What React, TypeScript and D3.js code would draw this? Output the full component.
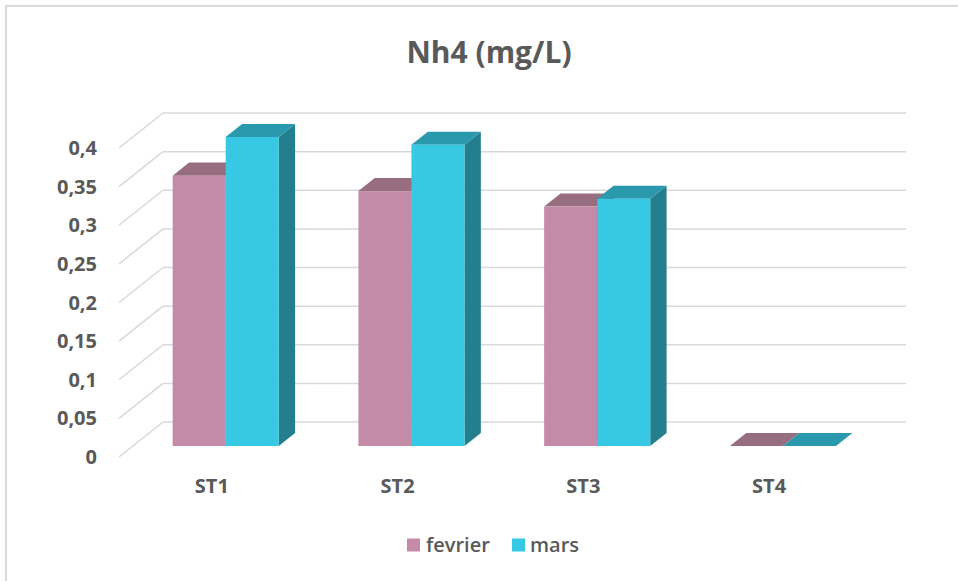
import React from "react";
import * as d3 from "d3";

// Nh4 concentrations (mg/L) per station, two sampling months
const categories = ["ST1", "ST2", "ST3", "ST4"];
const seriesNames = ["fevrier", "mars"];
const fevrier = [0.35, 0.33, 0.31, 0];
const mars = [0.4, 0.39, 0.32, 0];
const yTicks = [0, 0.05, 0.1, 0.15, 0.2, 0.25, 0.3, 0.35, 0.4];

const W = 958;
const H = 581;

// Oblique 3D projection: the floor runs from the front plane to the back wall
const front = { x: 119, y: 457 };
const depth = { dx: 44, dy: -35 };
const plotWidth = 743;
const plotHeight = 309;
const barDepthStart = 0.314;
const barDepthEnd = 0.686;

const colors = {
  fevrier: { front: "#C38BA8", top: "#976E80", side: "#7E5B6B" },
  mars: { front: "#37C9E4", top: "#2A99AD", side: "#237E8E" },
};

const textColor = "#595959";
const gridColor = "#D9D9D9";
const fontFamily = "'Open Sans', 'Noto Sans', sans-serif";

const fmt = (v: number) => String(v).replace(".", ",");

export default function App() {
  const y = d3.scaleLinear().domain([0, 0.4]).range([0, plotHeight]);
  const x = d3
    .scaleBand<string>()
    .domain(categories)
    .range([0, plotWidth])
    .paddingInner(0.429)
    .paddingOuter(0.2145);
  const xs = d3.scaleBand<string>().domain(seriesNames).range([0, x.bandwidth()]);

  const at = (t: number) => ({
    x: front.x + depth.dx * t,
    y: front.y + depth.dy * t,
  });
  const back = at(1);
  const barPlane = at(barDepthStart);
  const bdx = depth.dx * (barDepthEnd - barDepthStart);
  const bdy = depth.dy * (barDepthEnd - barDepthStart);

  const series = [
    { name: "fevrier", values: fevrier, c: colors.fevrier },
    { name: "mars", values: mars, c: colors.mars },
  ];

  const pts = (p: [number, number][]) => p.map((q) => q.join(",")).join(" ");

  return (
    <svg
      width={W}
      height={H}
      style={{ position: "absolute", left: 0, top: 0, background: "#fff" }}
      fontFamily={fontFamily}
    >
      <rect x={6} y={6} width={W + 10} height={H + 10} fill="#fff" stroke={gridColor} strokeWidth={2} />

      <text
        x={489}
        y={63}
        textAnchor="middle"
        fontSize={30}
        fontWeight={700}
        fill={textColor}
      >
        Nh4 (mg/L)
      </text>

      {/* gridlines: side-wall diagonal + back-wall horizontal */}
      {yTicks.map((t) => {
        const yb = back.y - y(t);
        const yf = front.y - y(t);
        return (
          <g key={t}>
            <line x1={front.x} y1={yf} x2={back.x} y2={yb} stroke={gridColor} strokeWidth={1.5} />
            <line x1={back.x} y1={yb} x2={back.x + plotWidth} y2={yb} stroke={gridColor} strokeWidth={1.5} />
            <text
              x={97}
              y={yf}
              dy="0.35em"
              textAnchor="end"
              fontSize={20}
              fontWeight={700}
              fill={textColor}
            >
              {fmt(t)}
            </text>
          </g>
        );
      })}

      {/* columns */}
      {categories.map((cat, i) => (
        <g key={cat}>
          {series.map((s) => {
            const x0 = barPlane.x + (x(cat) ?? 0) + (xs(s.name) ?? 0);
            const x1 = x0 + xs.bandwidth();
            const yb = barPlane.y;
            const yt = yb - y(s.values[i]);
            return (
              <g key={s.name}>
                <polygon
                  points={pts([
                    [x1, yb],
                    [x1 + bdx, yb + bdy],
                    [x1 + bdx, yt + bdy],
                    [x1, yt],
                  ])}
                  fill={s.c.side}
                />
                <polygon
                  points={pts([
                    [x0, yt],
                    [x1, yt],
                    [x1 + bdx, yt + bdy],
                    [x0 + bdx, yt + bdy],
                  ])}
                  fill={s.c.top}
                />
                {yb - yt > 0 && (
                  <rect x={x0} y={yt} width={x1 - x0} height={yb - yt} fill={s.c.front} />
                )}
              </g>
            );
          })}
          <text
            x={front.x + (x(cat) ?? 0) + x.bandwidth() / 2}
            y={493}
            textAnchor="middle"
            fontSize={20}
            fontWeight={700}
            fill={textColor}
          >
            {cat}
          </text>
        </g>
      ))}

      {/* legend */}
      <g>
        <rect x={407} y={538.5} width={13} height={13} fill={colors.fevrier.front} />
        <text x={426} y={551.5} fontSize={20} fontWeight={600} fill={textColor}>
          fevrier
        </text>
        <rect x={512} y={538.5} width={13} height={13} fill={colors.mars.front} />
        <text x={530} y={551.5} fontSize={20} fontWeight={600} fill={textColor}>
          mars
        </text>
      </g>
    </svg>
  );
}
